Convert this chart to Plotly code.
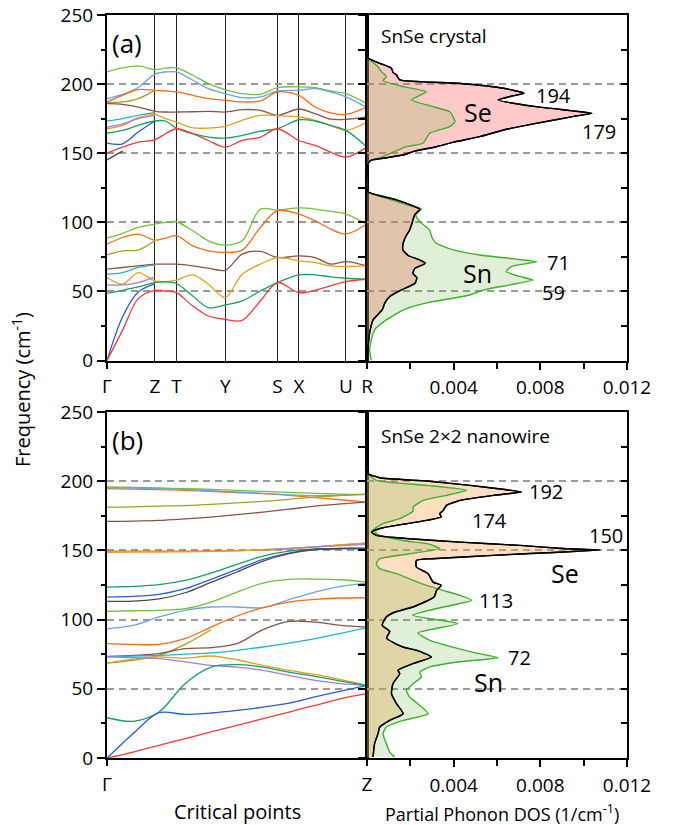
import plotly.graph_objects as go

W, H = 676, 825
FONT = "Open Sans"

# ---------------- panel (a): SnSe crystal ----------------
kpath_a_labels = ["Γ", "Z", "T", "Y", "S", "X", "U", "R"]
kpath_a_pos = [0, 0.184, 0.267, 0.455, 0.656, 0.738, 0.919, 1.0]
k_a = [0, 0.06, 0.12, 0.184, 0.225, 0.267, 0.33, 0.39, 0.455, 0.52, 0.59,
       0.656, 0.738, 0.80, 0.86, 0.919, 1.0]
N = None
bands_a = [
    [208.8, 211.7, 213.2, 210.5, 211.5, 211.7, 206.4, 200.4, 196, 193.1, 192.6, 197.5, 198, 197.5, 195, 193.1, 185.9],
    [189.5, 192.6, 197.5, 207.2, 208.8, 208.8, 202.8, 196.7, 193.1, 190.2, 190.7, 195, 195.5, 196.7, 194.3, 190.7, 183],
    [187.1, 191.9, 196, 195.5, 195, 194.3, 191.9, 189.5, 188.3, 187.1, 187.8, 194.3, 191.9, 183.4, 179.1, 178.1, 183.4],
    [186.6, 187.1, 189.5, 195.5] + [N] * 13,
    [185.9, 185.4, 183.4, 180.3, 179.8, 179.8, 180, 180.3, 179.8, 181.5, 181, 177.4, 182, 178.6, 174.7, 174.5, 176.2],
    [173.3, 175, 177.4, 179.3] + [N] * 13,
    [167.7, 170.1, 175.7, 178.1, 175, 172.5, 168.4, 168.2, 169.4, 173.8, 177.4, 177.1, 176.2, 173.8, 170.1, 166.5, 172.5],
    [168.9, 171.3, 175, 177.4] + [N] * 13,
    [164.6, 166.5, 170.1, 173.3, 173.3, 168.2, 164.1, 161.7, 160.9, 162.9, 166, 167.7, 174.2, 173.3, 170.1, 166.5, 154.4],
    [157.3, 156.8, 165.3, 173.3] + [N] * 13,
    [150, 154.4, 158, 159.7, 164.1, 167.7, 164.1, 159.2, 154.4, 159.2, 161.7, 167.7, 159.2, 155.6, 150.8, 147.1, 154.4],
    [145.2, 151.5] + [N] * 15,
    [88.6, 92, 96.3, 98.7, 99.9, 100.4, 93.9, 86.6, 83.5, 86.6, 109.6, 108.9, 110.4, 109.6, 107.9, 106, 98.7],
    [84.2, 89, 91.5, 87.1, 88.6, 90.3, 83, 79.4, 78.2, 79.9, 96.3, 108.4, 106, 101.2, 95.1, 91.5, 98.7],
    [76.5, 79.4, 79.9, 86.6] + [N] * 13,
    [66.1, 67.3, 68.5, 69.7, 69.7, 69.7, 68.5, 66.8, 65.3, 77, 78.9, 74.5, 75.7, 74.5, 69.7, 71.6, 68.5],
    [62.4, 63.6, 67.3, 69.2] + [N] * 13,
    [60, 55.2, 63.6, 57.6, 57.1, 58.1, 62, 55.2, 45.5, 62.4, 69.7, 74.5, 72.1, 70.9, 68.5, 68, 68.5],
    [54.7, 54.7, 56.4, 60.5] + [N] * 13,
    [48.6, 50.8, 53.2, 56.4, 56.9, 55.7, 46.7, 38.2, 40.2, 43.1, 50.3, 56.4, 62, 62, 60.5, 59.5, 58.8],
    [0, 31.7, 49.6, 55.7] + [N] * 13,
    [0, 22, 44.8, 50.8, 50.3, 49.1, 39.4, 32.2, 29.8, 29, 43.1, 56.4, 49.1, 50.8, 54, 57.1, 58.8],
]
colors_a = ["lgreen", "lblue", "orange", "olive", "brown", "cyan", "gold", "purple",
            "green", "blue", "red", "gray",
            "lgreen", "orange", "olive", "brown", "cyan", "gold", "purple",
            "green", "blue", "red"]

se_a_freq = [222, 218.7, 215, 211.5, 208.5, 206.6, 203, 200.6, 197, 193.4, 191, 188.5, 183.7, 180.8,
             178.9, 176.5, 171.6, 166.8, 162, 158, 154.7, 151.5, 148.7, 146.5, 145, 142, 135, 125, 122,
             116.2, 112.6, 109.5, 105.4, 100.5, 94.4, 90, 85, 80, 76, 73, 70.4, 66.5, 63.1, 60, 55.9,
             51.1, 46.3, 41.5, 36.6, 29.4, 19.8, 10, 0]
se_a_dos = [0, 0.00005, 0.0006, 0.00113, 0.0012, 0.00136, 0.00151, 0.0042, 0.0063, 0.00725, 0.0066,
            0.00605, 0.0078, 0.0094, 0.01038, 0.0095, 0.0078, 0.0063, 0.0052, 0.0040, 0.0032, 0.0022,
            0.00166, 0.0008, 0.0002, 0.00003, 0, 0, 0.00005, 0.00136, 0.0020, 0.00244, 0.0022, 0.0021,
            0.00197, 0.0018, 0.00167, 0.00166, 0.0019, 0.0024, 0.0027, 0.0022, 0.00212, 0.0023, 0.00222,
            0.0016, 0.00105, 0.00082, 0.0007, 0.00028, 0.00012, 0.00005, 0]
sn_a_freq = [222, 218.7, 212.6, 209, 205.4, 202.5, 198.2, 194.5, 191.5, 188.5, 183.7, 180, 176.4, 172.9,
             169.2, 164.4, 157.2, 154.7, 150, 147.5, 144.2, 140, 130, 122.2, 116.2, 112, 109.5, 105.4,
             100.5, 94.4, 89, 84.8, 80, 76.3, 73.5, 71.5, 68, 64.3, 61, 58.2, 54.7, 51.1, 47.4, 41.5,
             36.5, 29.4, 22.2, 14.9, 7.7, 0]
sn_a_dos = [0, 0.00005, 0.0005, 0.00066, 0.0009, 0.00074, 0.00167, 0.00274, 0.0024, 0.00205, 0.00305,
            0.00382, 0.00397, 0.00406, 0.00382, 0.0029, 0.00258, 0.00182, 0.0011, 0.00074, 0.0001, 0,
            0, 0.00005, 0.00113, 0.0020, 0.00251, 0.00225, 0.00244, 0.00289, 0.0030, 0.0032, 0.0040,
            0.0052, 0.0068, 0.00782, 0.00665, 0.00643, 0.0070, 0.00766, 0.0066, 0.0054, 0.00474, 0.0027,
            0.00166, 0.00089, 0.00035, 0.0002, 0.00012, 0.0002]
peaks_a = [("194", 553, 96), ("179", 599, 131), ("71", 558, 262), ("59", 553, 292)]

# ---------------- panel (b): SnSe 2x2 nanowire ----------------
kpath_b_labels = ["Γ", "Z"]
kpath_b_pos = [0, 1.0]
k_b = [0, 0.1, 0.2, 0.3, 0.4, 0.5, 0.6, 0.7, 0.8, 0.9, 1.0]
bands_b = [
    [195.8, 195.5, 195.1, 194.6, 194.1, 193.4, 192.6, 191.9, 191.2, 190.7, 190.5],
    [194.6, 194.3, 193.9, 193.4, 192.6, 191.8, 191, 189.8, 188.2, 186.6, 184.9],
    [195.3, 195, 194.5, 194, 193.2, 192.2, 191.2, 190.1, 189.5, 189.8, 190.5],
    [181.3, 181.5, 182, 182.4, 183.2, 184.3, 185.4, 186.9, 188.5, 189.7, 190.5],
    [171, 171.2, 171.7, 172.8, 174.1, 175.8, 177.7, 179.8, 182, 183.6, 184.9],
    [149.5, 149.5, 149.5, 149.5, 149.6, 149.8, 150.3, 151.2, 152.5, 153.9, 155.3],
    [148.6, 148.7, 148.8, 149, 149.3, 149.7, 150.3, 151.3, 152.6, 154, 155.4],
    [N, N, N, N, N, N, 150.6, 151.5, 152.6, 153.5, 154.3],
    [123.5, 124, 125.2, 128.3, 133.6, 139.9, 145.9, 149.5, 151, 151.2, 151.2],
    [116.3, 116.8, 118.2, 122.3, 129.1, 136.3, 143.5, 148.1, 150.7, 151.5, 151.5],
    [113.2, 113.4, 114.9, 119.4, 126.9, 134.4, 142.3, 147.6, 150.5, 151.4, 151.5],
    [106, 106.4, 106.7, 107.9, 112.7, 119.9, 126.4, 129.1, 129.3, 128.8, 127.1],
    [93.4, 95.8, 101.9, 106.7, 109.1, 109.1, 108.6, 114.4, 119.9, 124, 126.4],
    [82.6, 82.1, 82.1, 86.2, 94.6, 102.6, 108.6, 112.7, 114.6, 115.6, 115.8],
    [68.6, 70.6, 74.2, 82.1, 92.7, N, N, N, N, N, N],
    [73.4, 74.2, 75.4, 79, 79.7, 82.6, 92.7, 98.7, 98.2, 95.8, 94.6],
    [73, 73.6, 74.2, 75, 75.9, 77.8, 80.2, 83, 86.2, 90.1, 94.2],
    [68.6, 71.5, 73, 72.2, 73.7, 71, 66.9, 63.3, 60.4, 56.6, 52.5],
    [73, 72.5, 71.8, 69.4, 66.9, 65.7, 63.3, 59.7, 56.1, 53.7, 52.5],
    [29.1, 26.5, 33.2, 53.7, 65.7, 67.4, 65.7, 62.1, 59, 55.6, 52.5],
    [0, 17.6, 32.7, 31.5, 32.5, 34.4, 36.8, 39.7, 44.1, 48.4, 52.5],
    [0, 4.3, 9.2, 14, 18.8, 23.6, 28.4, 33.2, 38, 42.9, 46.5],
]
colors_b = ["lgreen", "orange", "lblue", "olive", "brown", "orange", "gold", "purple",
            "green", "blue", "gray", "lgreen", "lblue", "orange", "olive", "brown", "cyan",
            "gold", "purple", "green", "blue", "red"]

se_b_freq = [210, 205.4, 202.5, 200.1, 197, 193.8, 192.2, 189.8, 186.1, 182.5, 178.9, 176.5, 174.1,
             171.7, 169.3, 166.4, 163.3, 160.9, 158.4, 156, 153.6, 151.2, 150.3, 148.3, 146.4, 144,
             142.8, 138, 133.2, 127.1, 124.8, 121.1, 116.3, 109.1, 105.5, 102, 96, 91.4, 86.6, 80.2,
             77.8, 73, 68.2, 63.4, 60.9, 53.8, 46.5, 39.3, 32, 27.2, 22.4, 17.6, 10.4, 0.7]
se_b_dos = [0, 0.00005, 0.00059, 0.00275, 0.00475, 0.00645, 0.00713, 0.00583, 0.00429, 0.00367,
            0.00352, 0.00336, 0.00343, 0.00275, 0.00182, 0.00074, 0.0002, 0.00043, 0.00197, 0.00429,
            0.00706, 0.00922, 0.01074, 0.0083, 0.00583, 0.0030, 0.00228, 0.00228, 0.00282, 0.00305,
            0.00343, 0.00321, 0.0031, 0.00212, 0.0013, 0.0009, 0.0007, 0.00105, 0.0009, 0.00166,
            0.0023, 0.00297, 0.00212, 0.00143, 0.00151, 0.0012, 0.00113, 0.00136, 0.00167, 0.00105,
            0.00059, 0.00051, 0.00035, 0.00028]
sn_b_freq = [210, 205.4, 200.6, 197, 193.4, 189.8, 186.1, 181.3, 178.4, 176, 172.9, 169.3, 164.5,
             160.9, 157.2, 154.4, 151.2, 147.6, 144, 140.4, 136.8, 133.2, 128.4, 124.7, 121.1, 117.5,
             113.9, 109.1, 103.1, 97.1, 90.4, 85, 81.4, 76, 72.5, 69.4, 65.8, 62.1, 58.5, 53.7, 48.9,
             44.1, 38, 32, 27.2, 22.4, 17.6, 10.4, 4.3, 0.7]
sn_b_dos = [0, 0.00005, 0.00043, 0.00275, 0.0046, 0.00367, 0.00259, 0.00213, 0.00213, 0.0019,
            0.00151, 0.00074, 0.00028, 0.00059, 0.00167, 0.0029, 0.00336, 0.00197, 0.00059, 0.00043,
            0.00059, 0.00136, 0.00213, 0.00275, 0.00352, 0.00429, 0.00483, 0.00352, 0.0021, 0.0042,
            0.00235, 0.0029, 0.00366, 0.0050, 0.00605, 0.0042, 0.00289, 0.00244, 0.00251, 0.00213,
            0.00182, 0.00197, 0.00244, 0.00282, 0.00167, 0.00089, 0.00074, 0.00089, 0.00105, 0.00128]
peaks_b = [("192", 546, 492), ("174", 489, 520), ("150", 606, 535), ("113", 496, 600), ("72", 519, 657)]

dos_ticks = [0.004, 0.008, 0.012]
freq_ticks = [0, 50, 100, 150, 200, 250]

PALETTE = {
    "red": "#f03a3a", "blue": "#2b5bd3", "green": "#16a05c", "lgreen": "#72bf3e",
    "orange": "#ff6a12", "lblue": "#6aa5e6", "brown": "#8a5448", "gold": "#e2a11c",
    "purple": "#a47fd2", "cyan": "#1cb6d2", "olive": "#a3a022", "gray": "#4a4a4a",
}

# ---------------- figure ----------------
def px_x(p):
    return p / W

def px_y(p):
    return 1 - p / H

XB = [px_x(107), px_x(367)]
XD = [px_x(367), px_x(627)]
YA = [px_y(360.5), px_y(15)]
YB = [px_y(758), px_y(412)]

fig = go.Figure()

def add_bands(k, bands, cols, xa, ya):
    for vals, c in zip(bands, cols):
        fig.add_trace(go.Scatter(x=k, y=vals, mode="lines", xaxis=xa, yaxis=ya,
                                 line=dict(color=PALETTE[c], width=1.3, shape="spline", smoothing=0.9),
                                 connectgaps=False, hoverinfo="skip", showlegend=False))

def add_dos(se_f, se_d, sn_f, sn_d, se_fill, xa, ya):
    fig.add_trace(go.Scatter(x=se_d, y=se_f, mode="lines", fill="tozerox", fillcolor=se_fill,
                             line=dict(color="black", width=1.4, shape="spline", smoothing=0.5),
                             xaxis=xa, yaxis=ya, hoverinfo="skip", showlegend=False))
    fig.add_trace(go.Scatter(x=sn_d, y=sn_f, mode="lines", fill="tozerox",
                             fillcolor="rgba(100,180,60,0.2)",
                             line=dict(color="#3daf2c", width=1.4, shape="spline", smoothing=0.5),
                             xaxis=xa, yaxis=ya, hoverinfo="skip", showlegend=False))
    fig.add_trace(go.Scatter(x=se_d, y=se_f, mode="lines",
                             line=dict(color="black", width=1.4, shape="spline", smoothing=0.5),
                             xaxis=xa, yaxis=ya, hoverinfo="skip", showlegend=False))

add_bands(k_a, bands_a, colors_a, "x", "y")
add_dos(se_a_freq, se_a_dos, sn_a_freq, sn_a_dos, "rgba(255,100,100,0.35)", "x2", "y2")
add_bands(k_b, bands_b, colors_b, "x3", "y3")
add_dos(se_b_freq, se_b_dos, sn_b_freq, sn_b_dos, "rgba(255,160,80,0.35)", "x4", "y4")
# helpers so the right-hand tick axes are drawn
fig.add_trace(go.Scatter(x=[0], y=[0], mode="markers", marker=dict(opacity=0), xaxis="x2", yaxis="y5",
                         hoverinfo="skip", showlegend=False))
fig.add_trace(go.Scatter(x=[0], y=[0], mode="markers", marker=dict(opacity=0), xaxis="x4", yaxis="y6",
                         hoverinfo="skip", showlegend=False))

tickfont = dict(family=FONT, size=19, color="black")
line_common = dict(showline=True, linecolor="black", linewidth=2, zeroline=False, automargin=False)
dash_grid = dict(showgrid=True, gridcolor="#9a9a9a", gridwidth=1.5, griddash="7px,5px")

def band_yaxis(dom, anchor):
    return dict(domain=dom, anchor=anchor, range=[0, 250], tickvals=freq_ticks, ticks="outside",
                ticklen=8, tickwidth=1.5, tickcolor="black", tickfont=tickfont, mirror=True,
                minor=dict(dtick=25, tick0=0, ticks="outside", ticklen=4, tickwidth=1.5,
                           tickcolor="black", showgrid=False),
                **line_common, **dash_grid)

def dos_yaxis(dom, anchor):
    return dict(domain=dom, anchor=anchor, range=[0, 250], tickvals=freq_ticks, ticks="outside",
                ticklen=7, tickwidth=1.5, tickcolor="black", showticklabels=False, mirror=True,
                minor=dict(dtick=25, tick0=0, ticks="outside", ticklen=7, tickwidth=1.5,
                           tickcolor="black", showgrid=False),
                **line_common, **dash_grid)

def right_yaxis(over, anchor):
    return dict(overlaying=over, anchor=anchor, side="right", range=[0, 250], tickvals=freq_ticks,
                ticks="inside", ticklen=6, tickwidth=1.5, tickcolor="black", showticklabels=False,
                showgrid=False, showline=False, zeroline=False, automargin=False,
                minor=dict(dtick=25, tick0=0, ticks="inside", ticklen=6, tickwidth=1.5,
                           tickcolor="black", showgrid=False))

def dos_xaxis(dom, anchor):
    return dict(domain=dom, anchor=anchor, range=[0, 0.012], tickvals=dos_ticks,
                ticks="outside", ticklen=7, tickwidth=1.5, tickcolor="black", tickfont=tickfont,
                mirror=True, showgrid=False, ticklabelstandoff=2,
                minor=dict(dtick=0.002, tick0=0, ticks="outside", ticklen=6, tickwidth=1.5,
                           tickcolor="black", showgrid=False),
                **line_common)

fig.update_layout(
    width=W, height=H, margin=dict(l=0, r=0, t=0, b=0, autoexpand=False),
    paper_bgcolor="white", plot_bgcolor="rgba(0,0,0,0)",
    font=dict(family=FONT, color="black"),
    xaxis=dict(domain=XB, anchor="y", range=[0, 1], tickvals=kpath_a_pos, ticktext=kpath_a_labels,
               ticks="", tickfont=tickfont, mirror=True, showgrid=True, gridcolor="#222222",
               gridwidth=1, ticklabelstandoff=8,
               minor=dict(tick0=0, dtick=1, ticks="outside", ticklen=6, tickwidth=1.5,
                          tickcolor="black", showgrid=False),
               **line_common),
    yaxis=band_yaxis(YA, "x"),
    xaxis2=dos_xaxis(XD, "y2"),
    yaxis2=dos_yaxis(YA, "x2"),
    xaxis3=dict(domain=XB, anchor="y3", range=[0, 1], tickvals=kpath_b_pos, ticktext=kpath_b_labels,
                ticks="outside", ticklen=6, tickwidth=1.5, tickcolor="black", tickfont=tickfont,
                mirror=True, showgrid=False, ticklabelstandoff=2, **line_common),
    yaxis3=band_yaxis(YB, "x3"),
    xaxis4=dos_xaxis(XD, "y4"),
    yaxis4=dos_yaxis(YB, "x4"),
    yaxis5=right_yaxis("y2", "x2"),
    yaxis6=right_yaxis("y4", "x4"),
)

ann = []
def text(t, x, y, size, xanchor="center", angle=0):
    ann.append(dict(text=t, x=px_x(x), y=px_y(y), xref="paper", yref="paper", showarrow=False,
                    xanchor=xanchor, yanchor="middle", textangle=angle, borderpad=0,
                    font=dict(family=FONT, size=size, color="black")))

text("(a)", 111, 43, 26, "left")
text("(b)", 111, 440, 26, "left")
text("SnSe crystal", 380, 36, 19, "left")
text("SnSe 2×2 nanowire", 380, 436, 19, "left")
for t, x, y in peaks_a + peaks_b:
    text(t, x, y, 20)
text("Se", 478, 112, 25)
text("Sn", 478, 273, 25)
text("Se", 565, 573, 25)
text("Sn", 488, 682, 25)
text("Frequency (cm<sup>-1</sup>)", 22, 390, 20, angle=-90)
text("Critical points", 237, 811, 20)
text("Partial Phonon DOS (1/cm<sup>-1</sup>)", 502, 813, 18)
fig.update_layout(annotations=ann)

fig.write_html("out.html")
